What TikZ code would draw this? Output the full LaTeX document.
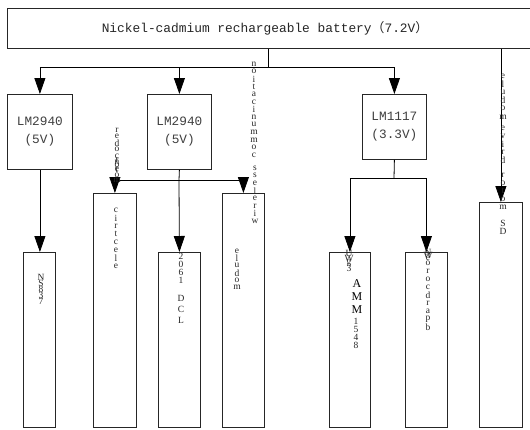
\documentclass[tikz,border=0pt]{standalone}
\usepackage{fontspec}
\setmainfont{Liberation Serif}
\newfontfamily\lmono{Liberation Mono}
\newfontfamily\cjk{Noto Sans CJK SC}
\usetikzlibrary{arrows.meta}
\newcommand\vtext[6]{%
  \foreach \ch [count=\i from 0] in {#5} \node[#6] (#1\i) at (#2, #3+#4*\i) {\ch};}
\begin{document}
\begin{tikzpicture}[x=1bp,y=-1bp,
  box/.style={draw=black!85, line width=0.8bp, inner sep=0pt},
  conn/.style={draw=black, line width=0.8bp},
  arr/.style={conn, -{Triangle[length=16bp,width=11bp]}},
  lbl/.style={font=\lmono\fontsize{12.8}{18}\selectfont, text=black!75, align=center},
  vl/.style={font=\fontsize{9.5}{9.5}\selectfont, text=black!85, inner sep=0pt},
  big/.style={font=\fontsize{12}{12}\selectfont, text=black, inner sep=0pt}]
\useasboundingbox (0,0) rectangle (530,429);
\fill[white] (0,0) rectangle (530,429);
% boxes
\node[box, anchor=north west, minimum width=528bp, minimum height=40bp] (bat) at (7,8) {};
\node[lbl, font=\lmono\fontsize{12.9}{18}\selectfont, text=black!85] (battxt) at (265,28) {Nickel-cadmium rechargeable battery{\cjk （}7.2V{\cjk ）}};
\node[box, lbl, anchor=north west, minimum width=65bp, minimum height=75bp] (lma) at (7,94) {LM2940\\(5V)};
\node[box, lbl, anchor=north west, minimum width=64bp, minimum height=75bp] (lmb) at (147,94) {LM2940\\(5V)};
\node[box, lbl, anchor=north west, minimum width=64bp, minimum height=65bp] (lmc) at (362,94) {LM1117\\(3.3V)};
\node[box, anchor=north west, minimum width=32bp, minimum height=175bp] (b1) at (23,252) {};
\node[box, anchor=north west, minimum width=43bp, minimum height=234bp] (b2) at (93,193) {};
\node[box, anchor=north west, minimum width=42bp, minimum height=175bp] (b3) at (158,252) {};
\node[box, anchor=north west, minimum width=42bp, minimum height=234bp] (b4) at (222,193) {};
\node[box, anchor=north west, minimum width=41bp, minimum height=175bp] (b5) at (329,252) {};
\node[box, anchor=north west, minimum width=42bp, minimum height=175bp] (b6) at (405,252) {};
\node[box, anchor=north west, minimum width=43bp, minimum height=225bp] (b7) at (479,202) {};
% connectors
\coordinate (j0) at (268,67);
\coordinate (j1) at (179,180);
\coordinate (j2) at (394,178);
\draw[conn] (bat.south -| j0) -- (j0);
\draw[conn] (lma.north |- j0) -- (lmc.north |- j0);
\draw[arr] (lma.north |- j0) -- (lma.north);
\draw[arr] (lmb.north |- j0) -- (lmb.north);
\draw[arr] (lmc.north |- j0) -- (lmc.north);
\draw[arr] (lma.south) -- (lma.south |- b1.north);
\draw[conn] (lmb.south) -- (j1);
\draw[conn] (b2.north |- j1) -- (b4.north |- j1);
\draw[arr] (b2.north |- j1) -- (b2.north);
\draw[arr] (b4.north |- j1) -- (b4.north);
\draw[arr] (j1) -- (b3.north);
\draw[conn] (lmc.south) -- (j2);
\draw[conn] (b5.north |- j2) -- (b6.north |- j2);
\draw[arr] (b5.north |- j2) -- (b5.north);
\draw[arr] (b6.north |- j2) -- (b6.north);
\draw[arr] (bat.south -| b7.north) -- (b7.north);
% vertical garbled labels
\vtext{wa}{254}{64}{7.6}{n,o,i,t,a,c,i,n,u,m,m,o,c}{vl}
\vtext{wb}{255}{168}{7.6}{s,s,e,l,e,r,i,w}{vl}
\vtext{wc}{237}{251}{7.3}{e,l,u,d,o,m}{vl}
\vtext{ea}{117}{130}{6.5}{r,e,d,o,c,n,e}{vl}
\vtext{eb}{117}{160}{5}{r,o,t,o,m}{vl}
\vtext{ec}{116}{210}{8}{c,i,r,t,c,e,l,e}{vl}
\vtext{ma}{41}{277}{6}{N,S,8,3,7}{vl}
\vtext{la}{181}{256}{8}{2,0,6,1}{vl}
\vtext{lb}{181}{298}{11}{D,C,L}{vl}
\vtext{ga}{349}{253}{5}{U,W,g,3}{vl}
\vtext{aa}{357}{284}{13}{A,M,M}{big}
\vtext{ab}{356}{321}{8}{1,5,4,8}{vl}
\vtext{ka}{428}{252}{3}{N,W,e}{vl}
\vtext{kb}{428}{263}{8}{o,r,o,c,d,r,a,p,b}{vl}
\vtext{da}{503}{76}{8.2}{e,l,u,d,o,m}{vl}
\vtext{db}{503}{128}{8}{e,v,i,r,d}{vl}
\vtext{dc}{503}{175}{8}{r,o,t,o,m}{vl}
\vtext{dd}{503}{223}{8}{S,D}{vl}
\end{tikzpicture}
\end{document}
